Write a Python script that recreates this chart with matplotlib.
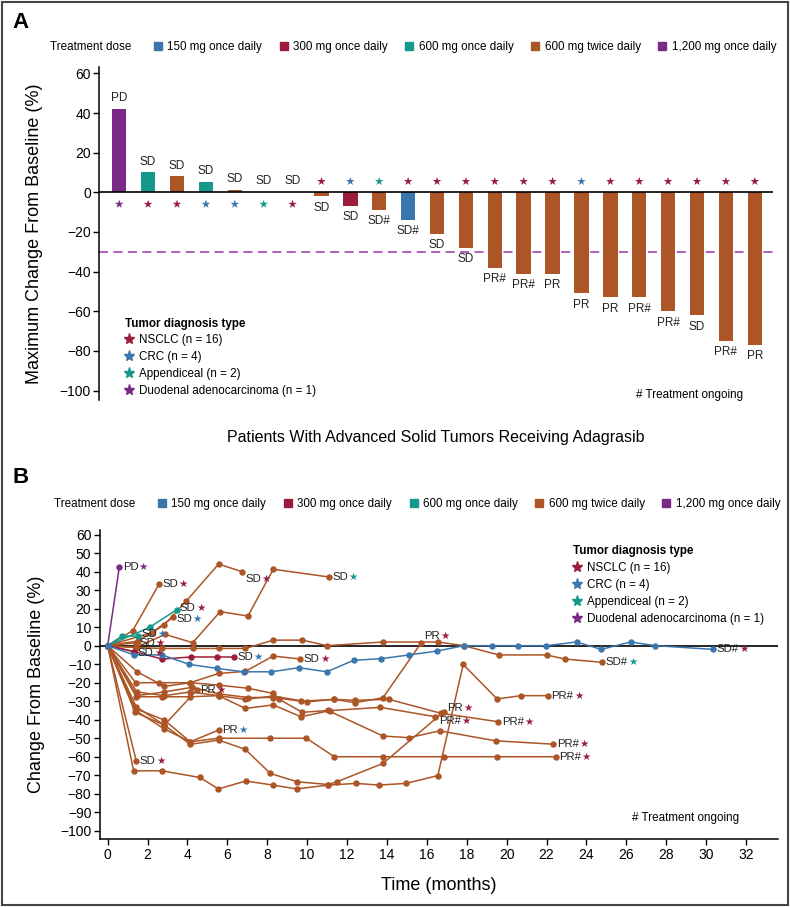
import matplotlib
matplotlib.use('Agg')
import matplotlib.pyplot as plt
from matplotlib.lines import Line2D
from matplotlib.patches import Rectangle
import numpy as np

REGULAR = ['Liberation Sans', 'DejaVu Sans']
plt.rcParams['font.family'] = REGULAR

BLUE, RED, TEAL, ORANGE, PURPLE = '#3b77ad', '#9c1c3b', '#14998c', '#ac5526', '#7a2a86'

dose_labels = ['150 mg once daily', '300 mg once daily', '600 mg once daily',
               '600 mg twice daily', '1,200 mg once daily']
dose_colors = [BLUE, RED, TEAL, ORANGE, PURPLE]
tumor_labels = ['NSCLC (n = 16)', 'CRC (n = 4)', 'Appendiceal (n = 2)',
                'Duodenal adenocarcinoma (n = 1)']
tumor_colors = [RED, BLUE, TEAL, PURPLE]

# Panel A: best change from baseline per patient (waterfall)
best_change = [42, 10, 8, 5, 1, 0, 0, -2, -7, -9, -14, -21, -28, -38, -41, -41,
               -51, -53, -53, -60, -62, -75, -77]
bar_dose = [4, 2, 3, 2, 3, 3, 3, 3, 1, 3, 0, 3, 3, 3, 3, 3, 3, 3, 3, 3, 3, 3, 3]
bar_tumor = [3, 0, 0, 1, 1, 2, 0, 0, 1, 2, 0, 0, 0, 0, 0, 0, 1, 0, 0, 0, 0, 0, 0]
bar_response = ['PD', 'SD', 'SD', 'SD', 'SD', 'SD', 'SD', 'SD', 'SD', 'SD#', 'SD#',
                'SD', 'SD', 'PR#', 'PR#', 'PR', 'PR', 'PR', 'PR#', 'PR#', 'SD', 'PR#', 'PR']

# Panel B: change from baseline over time per patient (spider plot)
track_months = [
    [0, 0.58],
    [0, 2.1, 3.45],
    [0, 0.71, 1.5],
    [0, 1.33, 2.72, 4.2, 5.48, 6.31],
    [0, 1.33],
    [0, 1.41],
    [0, 1.25, 2.58],
    [0, 1.5, 2.84, 3.94, 5.56, 6.73],
    [0, 1.4, 2.88, 4.26, 5.64, 7.03, 8.3, 11.1],
    [0, 2.2, 3.27],
    [0, 1.46, 2.84, 4.14, 5.56, 6.9, 8.29, 9.66],
    [0, 1.4, 2.72, 4.26, 5.56, 6.9, 8.3, 9.76, 11.0, 13.8, 16.56, 17.85, 19.6, 22.0, 22.9, 24.8],
    [0, 1.33, 2.72, 4.09, 5.48, 6.82, 8.2, 9.59, 10.98, 12.33, 13.72, 15.1, 16.5, 17.85,
     19.27, 20.56, 21.98, 23.5, 24.74, 26.21, 27.45, 30.36],
    [0, 1.43],
    [0, 1.43, 2.84, 4.47],
    [0, 1.38, 2.84, 4.14, 5.56],
    [0, 1.4, 2.58, 4.14, 5.56, 7.03, 8.3, 8.6, 9.76, 11.04, 13.8, 15.1, 16.65, 19.44, 22.33],
    [0, 1.43, 2.72, 4.14, 5.56, 6.9, 8.29, 10.0, 11.36, 12.4, 13.8, 15.7],
    [0, 1.38, 2.84, 4.14, 5.56, 6.9, 8.15, 9.49, 11.04, 11.5, 13.8, 16.85],
    [0, 1.46, 2.84, 4.14, 5.56, 6.9, 8.3, 9.69, 11.13, 13.67, 16.43],
    [0, 1.46, 2.84, 4.22, 5.56, 7.03, 8.3, 9.69, 11.36, 12.4, 14.1, 16.7, 19.58],
    [0, 1.3, 2.72, 4.62, 5.55, 6.92, 8.28, 9.47, 11.06, 12.45, 13.59, 14.95, 16.55, 17.82,
     19.52, 20.7, 22.07],
    [0, 1.4, 2.84, 4.14, 5.56, 8.12, 9.96, 11.36, 13.8, 16.85, 19.52, 22.45],
]
track_change = [
    [0, 42.3],
    [0, 9.9, 19.4],
    [0, 5.2, 5.2],
    [0, -3.2, -7.2, -6.1, -6.1, -6.1],
    [0, -3.2],
    [0, 1.6],
    [0, 8.1, 33.3],
    [0, 2.5, 11.2, 24.1, 44.1, 40],
    [0, -1, 6.1, 1.6, 18.4, 16, 41.3, 37.1],
    [0, 7, 15.3],
    [0, -14, -22, -20, -15, -13.9, -5.6, -7.2],
    [0, -1, -1.5, -1.5, -1.5, -1.5, 3, 3, 0, 2, 2, 0, -5, -5, -7.2, -9],
    [0, -5, -5, -10.1, -12.3, -14.1, -14.1, -11.9, -14.1, -7.9, -7, -5, -2.9, 0,
     0, 0, 0, 2, -2, 2, 0, -2],
    [0, -62.2],
    [0, -33, -42.9, -24],
    [0, -33.9, -40.2, -51.9, -45.6],
    [0, -20, -20, -20, -21.3, -23, -25.8, -29, -36, -35, -48.8, -49.7, -46, -51.4, -53.2],
    [0, -27.6, -27.6, -27.6, -27, -29, -27.2, -30.3, -29, -30.8, -28.1, 1.3],
    [0, -36, -42.9, -53.3, -51, -56, -69, -73.5, -75, -73.5, -63.6, -35.7],
    [0, -25, -27, -25, -27, -33.9, -32, -38.4, -35.1, -33.3, -38.4],
    [0, -27, -25, -22.5, -26, -28, -28, -30, -29, -29.5, -29, -36.5, -41.1],
    [0, -67.6, -67.6, -71.2, -77.4, -73.1, -75.3, -77.4, -75.3, -74.4, -75.3, -74.4, -70.2,
     -10.1, -28.8, -27, -27],
    [0, -35, -45, -51.9, -50, -50, -50, -60, -60, -60, -60, -60],
]
track_dose = [4, 2, 2, 1, 3, 3, 3, 3, 3, 3, 3, 3, 0, 3, 3, 3, 3, 3, 3, 3, 3, 3, 3]
track_tumor = [3, 0, 1, 1, 0, 0, 0, 0, 2, 1, 0, 2, 0, 0, 0, 1, 0, 0, 0, 0, 0, 0, 0]
track_response = ['PD', 'SD', 'SD', 'SD', 'SD', 'SD', 'SD', 'SD', 'SD', 'SD', 'SD', 'SD#', 'SD#',
                  'SD', 'PR', 'PR', 'PR#', 'PR', 'PR', 'PR#', 'PR#', 'PR#', 'PR#']

# a few end labels sit off their last point in the original (points)
label_nudge = {1: 1.2, 2: 1.5, 4: -0.8, 7: -5.5, 9: -1.5, 17: 5, 18: 3, 19: -3}

W, H = 790, 907
LEG_FS = 8.4
fig = plt.figure(figsize=(W / 100, H / 100), dpi=100)


def fx(px):
    return px / W


def fy(py):
    return 1 - py / H


def dose_legend(y_px, title_x, first_x):
    fig.text(fx(title_x), fy(y_px), 'Treatment dose', fontsize=LEG_FS, va='center', ha='left')
    handles = [Line2D([], [], ls='none', marker='s', ms=6, mfc=c, mec=c) for c in dose_colors]
    fig.legend(handles, dose_labels, loc='center left', bbox_to_anchor=(fx(first_x), fy(y_px)),
               ncol=5, frameon=False, prop={'size': LEG_FS},
               handlelength=0.7, handletextpad=0.45, columnspacing=1.5,
               borderpad=0, borderaxespad=0)


def tumor_legend(x_px, y_px):
    handles = [Line2D([], [], ls='none', marker='*', ms=8, mfc=c, mec=c) for c in tumor_colors]
    fig.legend(handles, tumor_labels, loc='upper left', bbox_to_anchor=(fx(x_px), fy(y_px)),
               title='Tumor diagnosis type',
               title_fontproperties={'size': LEG_FS, 'weight': 'bold'},
               alignment='left', prop={'size': LEG_FS}, frameon=False,
               handlelength=0.7, handletextpad=0.5, labelspacing=0.42,
               borderpad=0, borderaxespad=0)


# ---------------- Panel A ----------------
ax1 = fig.add_axes([fx(99.3), fy(400.5), (773 - 99.3) / W, (400.5 - 67.4) / H])
x = np.arange(len(best_change))
vals = np.array(best_change)
ax1.bar(x, vals, width=0.5, color=[dose_colors[d] for d in bar_dose], zorder=2)
ax1.axhline(0, color='black', lw=1.2, zorder=3)
ax1.axhline(-30, color='#a655b3', lw=1.3, ls=(0, (5, 3)), zorder=1)

star_y = np.where(vals < 0, 5.5, -6)
ax1.scatter(x, star_y, marker='*', s=42, c=[tumor_colors[t] for t in bar_tumor],
            linewidths=0, zorder=4)
for xi, v, r in zip(x, vals, bar_response):
    ty = v + 5.5 if v >= 0 else v - 5.7
    ax1.text(xi, ty, r, ha='center', va='center', fontsize=8.5, color='#222222')

ax1.set_xlim(-0.69, 22.63)
ax1.set_ylim(-105, 63)
ax1.set_yticks(np.arange(-100, 61, 20))
ax1.set_xticks([])
for s in ['top', 'right', 'bottom']:
    ax1.spines[s].set_visible(False)
ax1.spines['left'].set_linewidth(1.1)
ax1.tick_params(axis='y', length=4, width=1, labelsize=10, pad=2)
ax1.set_ylabel('Maximum Change From Baseline (%)', fontsize=13)
ax1.yaxis.set_label_coords((43 - 99.3) / 673.7, 0.5)
fig.text(fx(436), fy(437), 'Patients With Advanced Solid Tumors Receiving Adagrasib',
         ha='center', va='center', fontsize=11.5)

fig.text(fx(12), fy(22), 'A', fontsize=16, weight='bold', va='center')
dose_legend(46.7, 50, 153.9)
tumor_legend(124.6, 317.5)
fig.text(fx(636), fy(395), '# Treatment ongoing', fontsize=LEG_FS, va='center')

# ---------------- Panel B ----------------
ax2 = fig.add_axes([fx(99.7), fy(839.3), (778 - 99.7) / W, (839.3 - 530) / H])
ax2.axhline(0, color='black', lw=1.2, zorder=2)
order = sorted(range(len(track_months)), key=lambda i: track_dose[i] != 3)
for i in order:
    c = dose_colors[track_dose[i]]
    ax2.plot(track_months[i], track_change[i], '-o', color=c, lw=1.1, ms=3.6,
             zorder=3 if track_dose[i] == 3 else 4)
    xe, ye = track_months[i][-1], track_change[i][-1]
    t = ax2.annotate(track_response[i], (xe, ye), xytext=(2.5, label_nudge.get(i, 0)),
                     textcoords='offset points', ha='left', va='center',
                     fontsize=8.2, color='#222222', zorder=5)
    ax2.annotate('\u2605', xy=(1, 0.5), xycoords=t, xytext=(0.3, 0),
                 textcoords='offset points', ha='left', va='center',
                 family='DejaVu Sans', fontsize=7.5, color=tumor_colors[track_tumor[i]], zorder=5)

ax2.set_xlim(-0.4, 33.6)
ax2.set_ylim(-104.6, 62.5)
ax2.set_xticks(np.arange(0, 33, 2))
ax2.set_yticks(np.arange(-100, 61, 10))
for s in ['top', 'right']:
    ax2.spines[s].set_visible(False)
for s in ['left', 'bottom']:
    ax2.spines[s].set_linewidth(1.1)
ax2.tick_params(length=4, width=1, labelsize=10, pad=2)
ax2.set_ylabel('Change From Baseline (%)', fontsize=13)
ax2.yaxis.set_label_coords((45 - 99.7) / 678.3, 0.5)
fig.text(fx(439), fy(885), 'Time (months)', fontsize=13, ha='center', va='center')

fig.text(fx(12), fy(478), 'B', fontsize=16, weight='bold', va='center')
dose_legend(504, 54, 158)
tumor_legend(573, 545)
fig.text(fx(632), fy(818), '# Treatment ongoing', fontsize=LEG_FS, va='center')

fig.patches.append(Rectangle((0.002, 0.002), 0.996, 0.996, transform=fig.transFigure,
                             fill=False, ec='#444444', lw=1.5))

fig.savefig('out.png', dpi=100)
